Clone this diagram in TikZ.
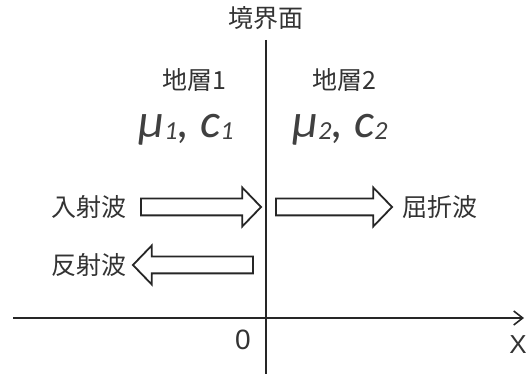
\documentclass[tikz,border=0pt]{standalone}
\usepackage{fontspec}
\setmainfont{Liberation Sans}
\newfontfamily\jp{Noto Sans CJK JP}
\newfontfamily\greekit{Carlito Italic}
\newcommand{\sbs}[1]{\raisebox{-2pt}{\fontsize{26}{26}\selectfont #1}}
\usetikzlibrary{shapes.arrows,arrows.meta}
\begin{document}
\begin{tikzpicture}[x=1pt,y=-1pt,
  lbl/.style={font=\jp\fontsize{25}{27}\selectfont, text=black!80, inner sep=0pt},
  param/.style={font=\greekit\fontsize{48}{50}\selectfont, text=black!75, inner sep=0pt},
  wave/.style={draw=black!85, line width=1.8pt, fill=white, single arrow, single arrow tip angle=92,
    minimum width=37pt, single arrow head extend=11pt, inner xsep=0pt, inner ysep=7.5pt, outer sep=0pt, anchor=center},
  axis/.style={draw=black!85, line width=1.6pt}]
\useasboundingbox (0,0) rectangle (528,374);
\coordinate (top) at (266,40);
\coordinate (bot) at (266,374);
\coordinate (xl) at (13,318);
\coordinate (xr) at (524,318);
\draw[axis, line width=2.6pt] (top) -- (bot);
\draw[axis, -{Straight Barb[length=9pt,width=14pt,line width=1.6pt]}] (xl) -- (xr);
\node[lbl] (bd) at (266,18) {境界面};
\node[lbl] (l1) at (194,80) {地層1};
\node[lbl] (l2) at (344,80) {地層2};
\node[param] (p1) at (186,130) {μ\sbs{1}, c\sbs{1}};
\node[param] (p2) at (340,130) {μ\sbs{2}, c\sbs{2}};
\node[wave, minimum height=120pt] (inc) at (197,207) {};
\node[wave, minimum height=116pt] (ref) at (330,207) {};
\node[wave, minimum height=120pt, shape border rotate=180] (refl) at (197,265) {};
\node[lbl] (tinc) at (89,207) {入射波};
\node[lbl] (tref) at (440,207) {屈折波};
\node[lbl] (trefl) at (89,265) {反射波};
\node[font=\fontsize{28}{30}\selectfont, text=black!80, inner sep=0pt] (o) at (243,340) {0};
\node[font=\fontsize{26}{28}\selectfont, text=black!80, inner sep=0pt] (xx) at (518,345) {X};
\end{tikzpicture}
\end{document}
